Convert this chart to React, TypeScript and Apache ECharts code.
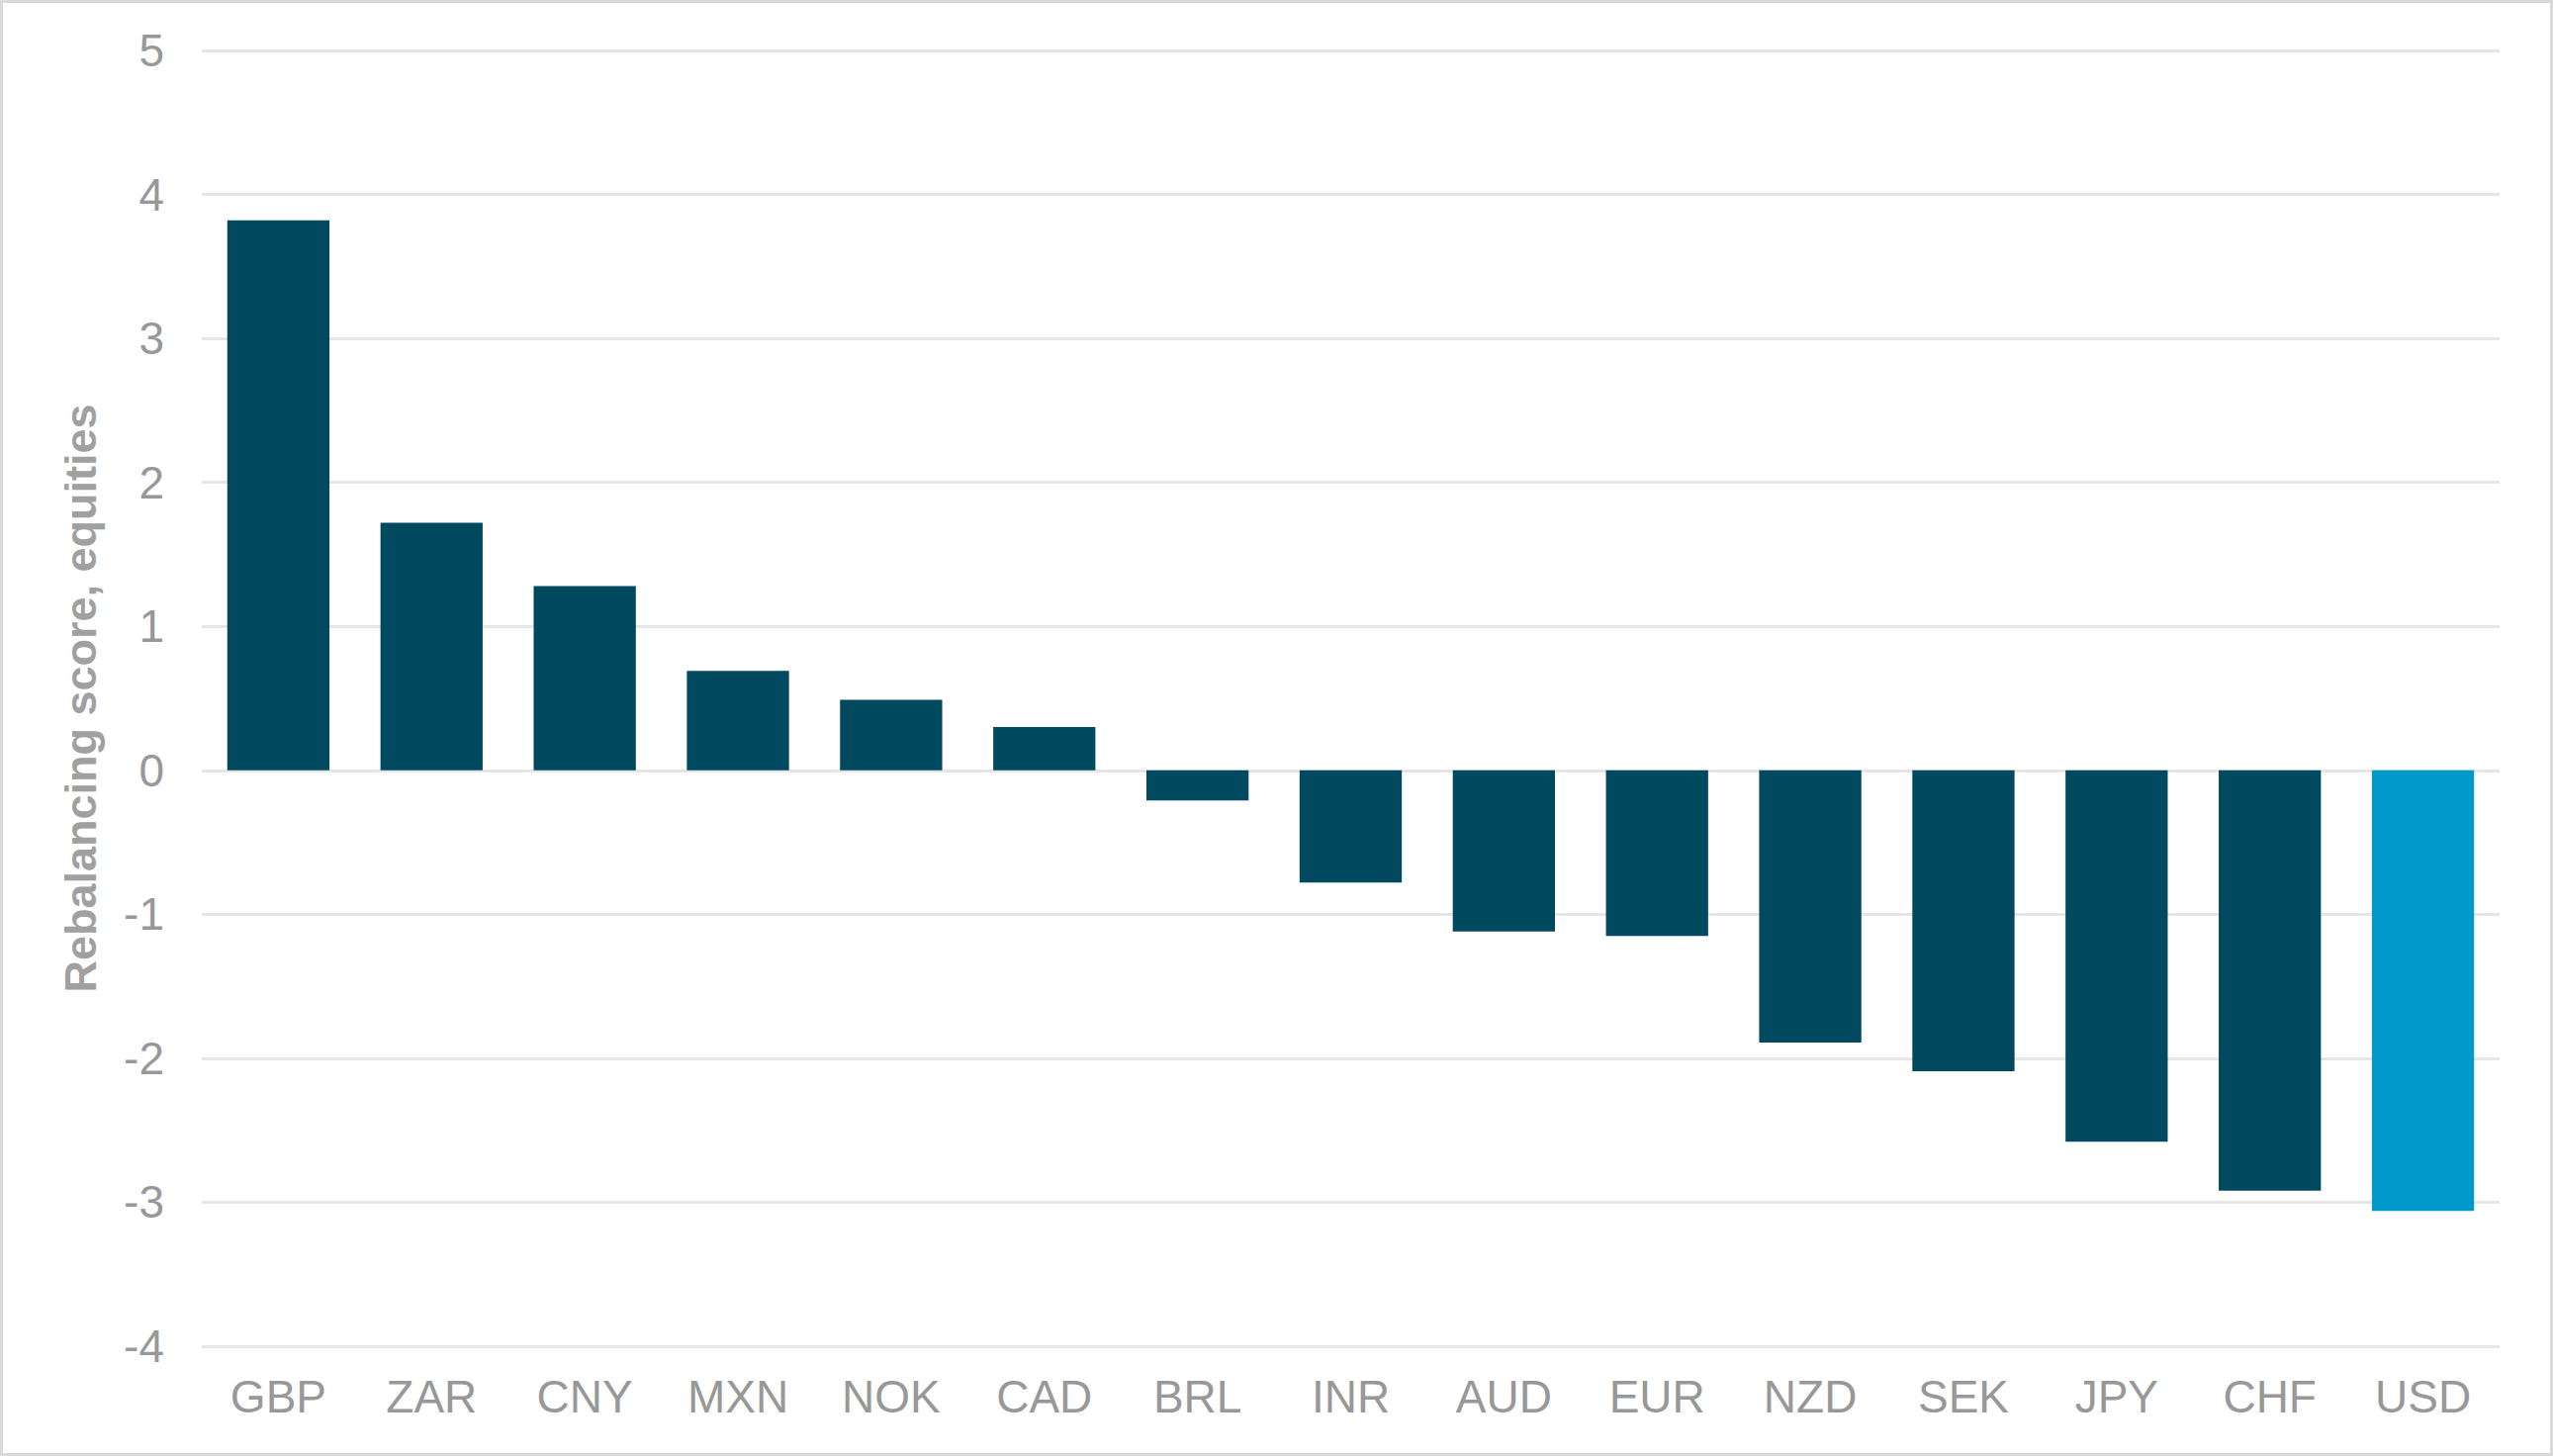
import { useEffect, useRef } from "react";
import * as echarts from "echarts";

const currencies = [
  "GBP", "ZAR", "CNY", "MXN", "NOK", "CAD", "BRL", "INR",
  "AUD", "EUR", "NZD", "SEK", "JPY", "CHF", "USD",
];

const scores = [
  3.82, 1.72, 1.28, 0.69, 0.49, 0.3, -0.21, -0.78,
  -1.12, -1.15, -1.89, -2.09, -2.58, -2.92, -3.06,
];

const highlighted = ["USD"];

const yTicks = [-4, -3, -2, -1, 0, 1, 2, 3, 4, 5];

const DARK = "#01495F";
const LIGHT = "#0099C9";
const TEXT = "#989898";
const FONT = "Liberation Sans, Arial, sans-serif";

export default function App() {
  const chartRef = useRef<HTMLDivElement>(null);

  useEffect(() => {
    if (!chartRef.current) return;
    const chart = echarts.init(chartRef.current, undefined, { renderer: "svg" });

    // the 3px frame sits on the div, so grid offsets are measured inside it
    chart.setOption({
      animation: false,
      backgroundColor: "#ffffff",
      grid: { left: 201, right: 51, top: 48, bottom: 108, containLabel: false },
      xAxis: {
        type: "category",
        data: currencies,
        axisLine: { show: false },
        axisTick: { show: false },
        axisLabel: {
          color: TEXT,
          fontFamily: FONT,
          fontSize: 46,
          margin: 28,
          interval: 0,
        },
      },
      yAxis: {
        type: "value",
        min: yTicks[0],
        max: yTicks[yTicks.length - 1],
        interval: 1,
        name: "Rebalancing score, equities",
        nameLocation: "middle",
        nameGap: 100,
        nameTextStyle: {
          color: "#a0a0a0",
          fontFamily: FONT,
          fontSize: 45,
          fontWeight: "bold",
        },
        axisLine: { show: false },
        axisTick: { show: false },
        axisLabel: {
          color: TEXT,
          fontFamily: FONT,
          fontSize: 46,
          margin: 38,
        },
        splitLine: { lineStyle: { color: "#e6e6e6", width: 3 } },
      },
      series: [
        {
          type: "bar",
          barCategoryGap: "33.3%",
          data: scores.map((v, i) => ({
            value: v,
            itemStyle: {
              color: highlighted.includes(currencies[i]) ? LIGHT : DARK,
            },
          })),
        },
      ],
    });

    const onResize = () => chart.resize();
    window.addEventListener("resize", onResize);
    return () => {
      window.removeEventListener("resize", onResize);
      chart.dispose();
    };
  }, []);

  return (
    <div
      ref={chartRef}
      style={{
        position: "fixed",
        left: 0,
        top: 0,
        width: "100vw",
        height: "100vh",
        boxSizing: "border-box",
        border: "3px solid #d9d9d9",
      }}
    />
  );
}
